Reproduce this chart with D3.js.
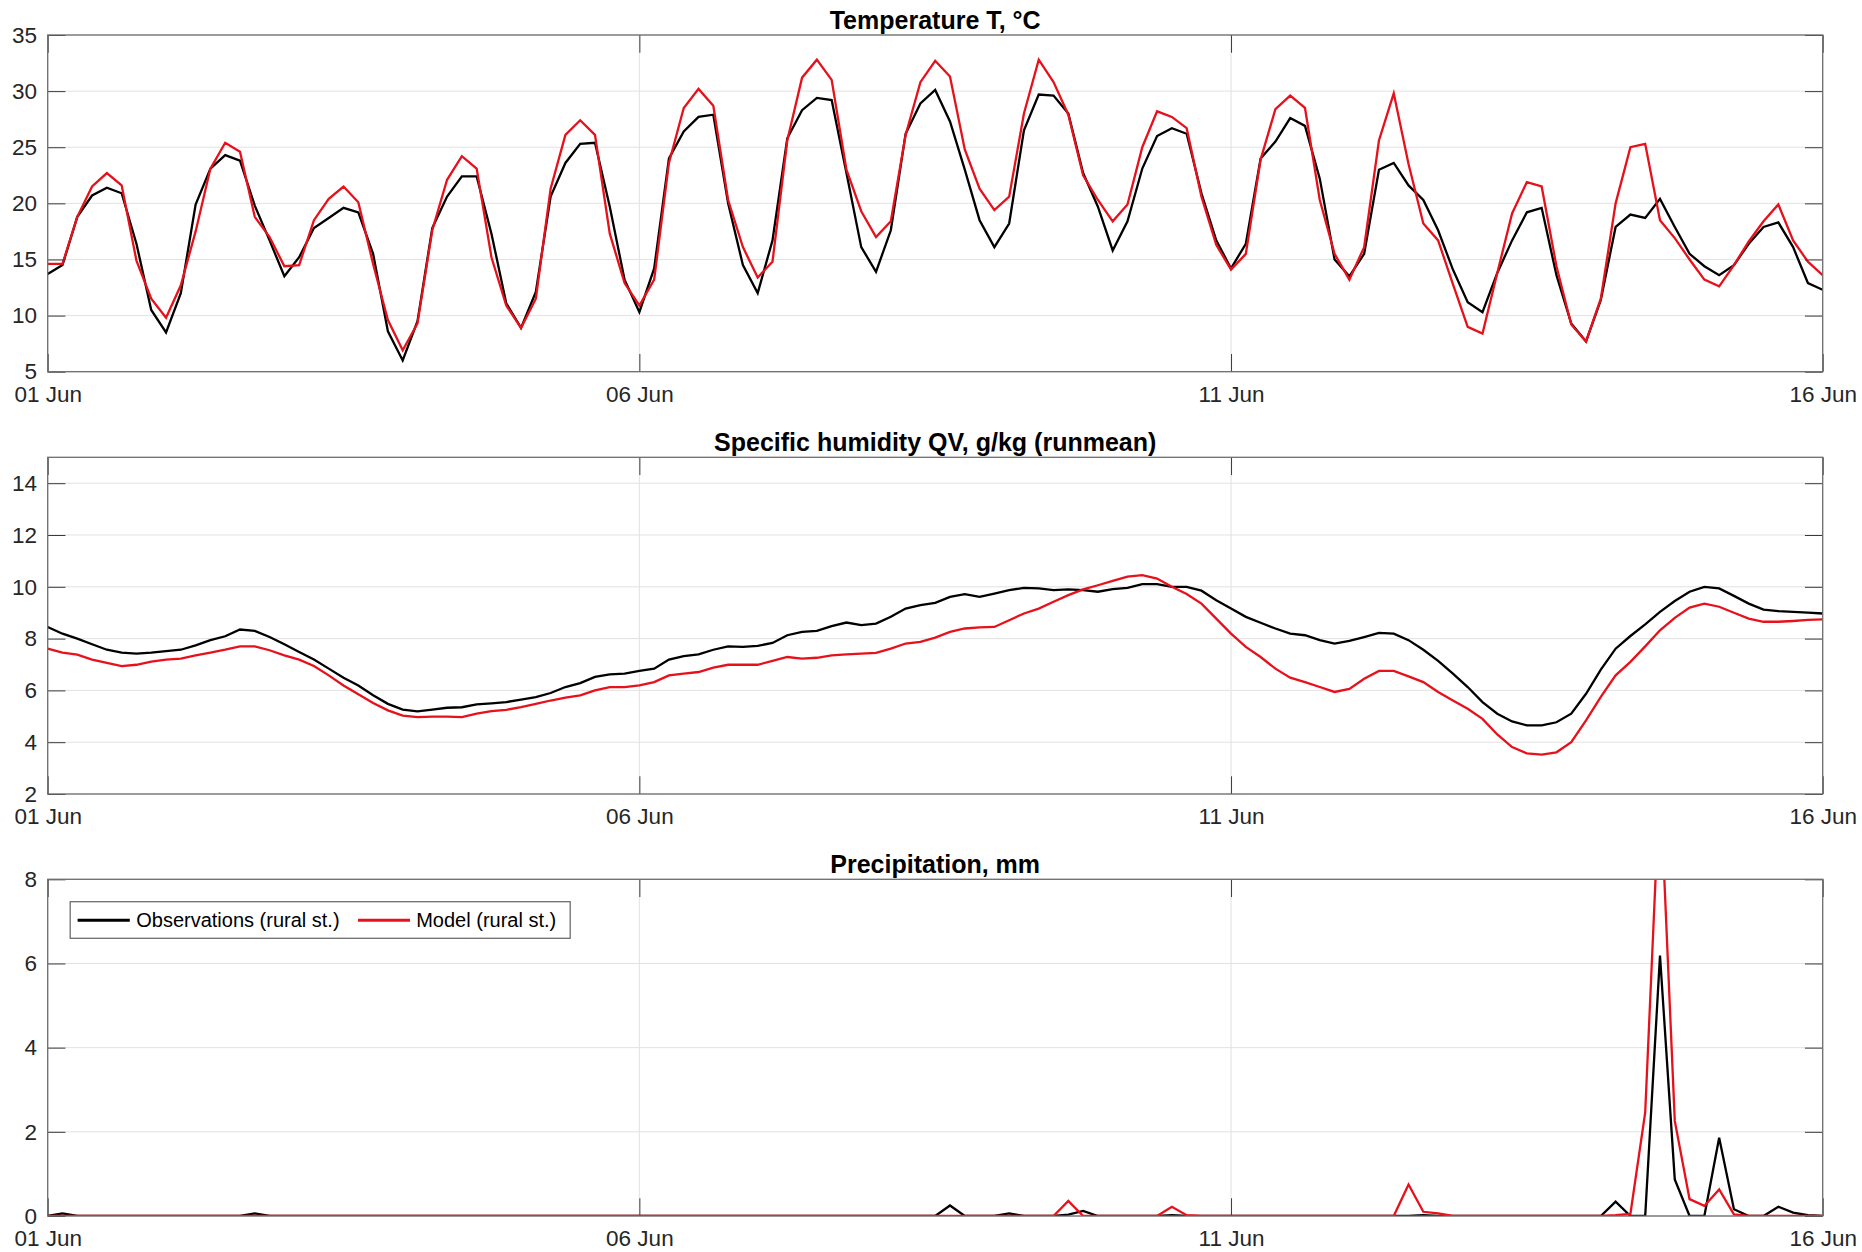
<!DOCTYPE html>
<html>
<head>
<meta charset="utf-8">
<script src="https://cdn.jsdelivr.net/npm/d3@7"></script>
<style>
  body { margin: 0; background: #fff; }
  svg { display: block; font-family: "Liberation Sans", Arial, sans-serif; }
</style>
</head>
<body>
<svg width="1862" height="1252"></svg>
<script>
// 3-hourly values, 01 Jun 00:00 .. 16 Jun 00:00 (121 points)
var obsT = [
  13.7, 14.5, 18.8, 20.7, 21.4, 20.9, 16.4, 10.5,
  8.5, 12.0, 19.9, 23.1, 24.3, 23.8, 19.8, 16.7,
  13.5, 15.2, 17.8, 18.7, 19.6, 19.2, 15.5, 8.6,
  6.0, 9.5, 17.8, 20.6, 22.4, 22.4, 17.3, 11.1,
  8.9, 12.1, 20.6, 23.6, 25.3, 25.4, 19.7, 13.2,
  10.3, 14.2, 24.0, 26.4, 27.7, 27.9, 20.0, 14.5,
  12.0, 16.7, 25.8, 28.3, 29.4, 29.2, 22.7, 16.1,
  13.9, 17.6, 26.2, 28.9, 30.1, 27.3, 23.0, 18.5,
  16.1, 18.2, 26.5, 29.7, 29.6, 28.0, 22.7, 19.7,
  15.8, 18.4, 23.1, 26.0, 26.7, 26.2, 20.9, 16.7,
  14.2, 16.4, 24.0, 25.5, 27.6, 26.9, 22.2, 15.0,
  13.5, 15.5, 23.0, 23.6, 21.6, 20.3, 17.6, 14.1,
  11.2, 10.3, 13.8, 16.7, 19.2, 19.6, 13.6, 9.3,
  7.7, 11.4, 17.9, 19.0, 18.7, 20.4, 17.9, 15.5,
  14.4, 13.6, 14.5, 16.4, 17.9, 18.3, 16.1, 12.9,
  12.3
]
var modT = [
  14.6, 14.6, 18.8, 21.5, 22.7, 21.6, 14.9, 11.5,
  9.8, 12.7, 17.5, 23.1, 25.4, 24.6, 18.8, 17.0,
  14.4, 14.5, 18.5, 20.4, 21.5, 20.1, 14.6, 9.6,
  6.9, 9.3, 17.6, 22.1, 24.2, 23.1, 15.2, 10.9,
  8.9, 11.5, 21.3, 26.1, 27.4, 26.1, 17.3, 12.9,
  10.9, 13.2, 23.6, 28.5, 30.2, 28.7, 20.3, 16.1,
  13.4, 14.8, 25.6, 31.2, 32.8, 31.0, 23.0, 19.3,
  17.0, 18.4, 26.1, 30.8, 32.7, 31.3, 24.8, 21.3,
  19.4, 20.6, 28.0, 32.8, 30.8, 27.9, 22.5, 20.3,
  18.4, 19.9, 25.0, 28.2, 27.7, 26.7, 20.6, 16.3,
  14.1, 15.5, 23.9, 28.4, 29.6, 28.5, 20.3, 15.5,
  13.2, 16.1, 25.6, 29.8, 23.5, 18.2, 16.7, 12.8,
  9.0, 8.4, 13.8, 19.1, 21.9, 21.5, 14.4, 9.2,
  7.7, 11.5, 20.0, 25.0, 25.3, 18.5, 16.9, 15.0,
  13.2, 12.6, 14.5, 16.6, 18.4, 19.9, 16.7, 14.8,
  13.6
]

var obsQV = [
  8.45, 8.19, 8.00, 7.78, 7.57, 7.46, 7.42, 7.46,
  7.52, 7.57, 7.74, 7.94, 8.09, 8.35, 8.30, 8.06,
  7.78, 7.48, 7.19, 6.84, 6.49, 6.19, 5.81, 5.48,
  5.26, 5.19, 5.26, 5.33, 5.35, 5.46, 5.50, 5.55,
  5.64, 5.74, 5.90, 6.13, 6.28, 6.52, 6.62, 6.65,
  6.75, 6.84, 7.19, 7.32, 7.39, 7.57, 7.70, 7.68,
  7.72, 7.83, 8.13, 8.26, 8.30, 8.48, 8.62, 8.52,
  8.58, 8.84, 9.16, 9.29, 9.38, 9.61, 9.72, 9.61,
  9.74, 9.87, 9.96, 9.94, 9.87, 9.90, 9.87, 9.81,
  9.91, 9.96, 10.10, 10.10, 10.00, 10.00, 9.85, 9.48,
  9.16, 8.84, 8.61, 8.39, 8.19, 8.13, 7.94, 7.81,
  7.91, 8.06, 8.22, 8.19, 7.94, 7.57, 7.14, 6.65,
  6.13, 5.55, 5.10, 4.80, 4.65, 4.65, 4.77, 5.10,
  5.87, 6.80, 7.61, 8.10, 8.55, 9.03, 9.45, 9.81,
  10.00, 9.94, 9.65, 9.35, 9.12, 9.06, 9.03, 9.00,
  8.97
]
var modQV = [
  7.61, 7.46, 7.38, 7.19, 7.06, 6.94, 6.99, 7.11,
  7.19, 7.23, 7.35, 7.46, 7.57, 7.70, 7.70, 7.55,
  7.35, 7.19, 6.94, 6.58, 6.19, 5.85, 5.51, 5.23,
  5.03, 4.97, 4.99, 4.99, 4.97, 5.10, 5.20, 5.25,
  5.35, 5.48, 5.61, 5.72, 5.81, 6.00, 6.13, 6.13,
  6.19, 6.32, 6.58, 6.65, 6.71, 6.88, 6.99, 6.99,
  6.99, 7.14, 7.29, 7.23, 7.26, 7.35, 7.39, 7.42,
  7.45, 7.61, 7.81, 7.87, 8.04, 8.26, 8.39, 8.43,
  8.45, 8.71, 8.97, 9.16, 9.42, 9.68, 9.90, 10.06,
  10.23, 10.39, 10.45, 10.32, 10.00, 9.72, 9.35, 8.77,
  8.19, 7.68, 7.29, 6.84, 6.49, 6.32, 6.13, 5.94,
  6.06, 6.45, 6.75, 6.75, 6.54, 6.32, 5.94, 5.61,
  5.29, 4.90, 4.30, 3.81, 3.57, 3.52, 3.61, 4.00,
  4.84, 5.75, 6.58, 7.10, 7.70, 8.32, 8.80, 9.20,
  9.35, 9.23, 9.00, 8.77, 8.65, 8.65, 8.68, 8.72,
  8.74
]

var obsPr = [
  0, 0.06, 0, 0, 0, 0, 0, 0,
  0, 0, 0, 0, 0, 0, 0.06, 0,
  0, 0, 0, 0, 0, 0, 0, 0,
  0, 0, 0, 0, 0, 0, 0, 0,
  0, 0, 0, 0, 0, 0, 0, 0,
  0, 0, 0, 0, 0, 0, 0, 0,
  0, 0, 0, 0, 0, 0, 0, 0,
  0, 0, 0, 0, 0, 0.25, 0, 0,
  0, 0.06, 0, 0, 0, 0.03, 0.12, 0,
  0, 0, 0, 0, 0.02, 0, 0, 0,
  0, 0, 0, 0, 0, 0, 0, 0,
  0, 0, 0, 0, 0, 0.02, 0, 0,
  0, 0, 0, 0, 0, 0, 0, 0,
  0, 0, 0.34, 0, 0, 6.19, 0.87, 0,
  0, 1.86, 0.16, 0, 0, 0.22, 0.08, 0.02,
  0
]
var modPr = [
  0, 0, 0, 0, 0, 0, 0, 0,
  0, 0, 0, 0, 0, 0, 0, 0,
  0, 0, 0, 0, 0, 0, 0, 0,
  0, 0, 0, 0, 0, 0, 0, 0,
  0, 0, 0, 0, 0, 0, 0, 0,
  0, 0, 0, 0, 0, 0, 0, 0,
  0, 0, 0, 0, 0, 0, 0, 0,
  0, 0, 0, 0, 0, 0, 0, 0,
  0, 0, 0, 0, 0, 0.36, 0, 0,
  0, 0, 0, 0, 0.22, 0.02, 0, 0,
  0, 0, 0, 0, 0, 0, 0, 0,
  0, 0, 0, 0, 0.75, 0.10, 0.06, 0,
  0, 0, 0, 0, 0, 0, 0, 0,
  0, 0, 0.02, 0.05, 2.46, 10.4, 2.26, 0.40,
  0.24, 0.63, 0.04, 0, 0, 0, 0, 0,
  0
]

var seriesNames = ['Observations (rural st.)', 'Model (rural st.)']
var titles = ['Temperature T, \u00b0C', 'Specific humidity QV, g/kg (runmean)', 'Precipitation, mm']
var xTickDays = [1, 6, 11, 16]
var yTicksT = [5, 10, 15, 20, 25, 30, 35]
var yTicksQV = [2, 4, 6, 8, 10, 12, 14]
var yTicksPr = [0, 2, 4, 6, 8]

// 画布
var svg = d3.select('svg')
var left = 47.7, right = 1822.7
var plotH = 336.7
var tickLen = 17.75
var colors = ['#000000', '#e8101a']

var t0 = Date.UTC(2019, 5, 1)
var times = obsT.map(function (_, i) { return new Date(t0 + i * 3 * 3600 * 1000) })
var xTicks = xTickDays.map(function (d) { return new Date(Date.UTC(2019, 5, d)) })

var x = d3.scaleUtc()
  .domain([xTicks[0], xTicks[xTicks.length - 1]])
  .range([0, right - left])

var panels = [
  { top: 35, domain: [5, 35], ticks: yTicksT, series: [obsT, modT], title: titles[0] },
  { top: 457.3, domain: [2, 15], ticks: yTicksQV, series: [obsQV, modQV], title: titles[1] },
  { top: 879.3, domain: [0, 8], ticks: yTicksPr, series: [obsPr, modPr], title: titles[2], legend: true }
]

panels.forEach(function (p, k) {
  var w = right - left
  var y = d3.scaleLinear().domain(p.domain).range([plotH, 0])
  var g = svg.append('g').attr('transform', 'translate(' + left + ',' + p.top + ')')

  g.append('clipPath').attr('id', 'clip' + k)
    .append('rect').attr('width', w).attr('height', plotH)

  // grid
  g.selectAll('.hgrid').data(p.ticks).enter().append('line')
    .attr('x1', 0).attr('x2', w)
    .attr('y1', d => y(d)).attr('y2', d => y(d))
    .attr('stroke', '#e2e2e2').attr('stroke-width', 1)
  g.selectAll('.vgrid').data(xTicks).enter().append('line')
    .attr('x1', d => x(d)).attr('x2', d => x(d))
    .attr('y1', 0).attr('y2', plotH)
    .attr('stroke', '#e2e2e2').attr('stroke-width', 1)

  // lines
  var line = d3.line()
    .x(function (d, i) { return x(times[i]) })
    .y(function (d) { return y(d) })
  var lines = g.append('g').attr('clip-path', 'url(#clip' + k + ')')
  p.series.forEach(function (s, j) {
    lines.append('path')
      .attr('d', line(s))
      .attr('fill', 'none')
      .attr('stroke', colors[j])
      .attr('stroke-width', 2.3)
  })

  // axes
  var fmt = d3.utcFormat('%d %b')
  var axB = g.append('g').attr('transform', 'translate(0,' + plotH + ')')
    .call(d3.axisBottom(x).tickValues(xTicks).tickFormat(fmt)
      .tickSizeInner(-tickLen).tickSizeOuter(0).tickPadding(14.5))
  var axT = g.append('g')
    .call(d3.axisTop(x).tickValues(xTicks).tickFormat('')
      .tickSizeInner(-tickLen).tickSizeOuter(0))
  var axL = g.append('g')
    .call(d3.axisLeft(y).tickValues(p.ticks).tickFormat(d3.format('d'))
      .tickSizeInner(-tickLen).tickSizeOuter(0).tickPadding(10.7))
  var axR = g.append('g').attr('transform', 'translate(' + w + ',0)')
    .call(d3.axisRight(y).tickValues(p.ticks).tickFormat('')
      .tickSizeInner(-tickLen).tickSizeOuter(0))

  ;[axB, axT, axL, axR].forEach(function (a) {
    a.select('.domain').remove()
    a.selectAll('line').attr('stroke', '#3a3a3a').attr('stroke-width', 1)
    a.selectAll('text')
      .attr('fill', '#262626')
      .style('font-size', '22.5px')
      .style('font-family', '"Liberation Sans", Arial, sans-serif')
  })

  g.append('rect')
    .attr('width', w).attr('height', plotH)
    .attr('fill', 'none').attr('stroke', '#6e6e6e').attr('stroke-width', 1.3)

  g.append('text')
    .attr('x', w / 2).attr('y', -6)
    .attr('text-anchor', 'middle')
    .attr('font-weight', 'bold')
    .attr('font-size', 25)
    .attr('fill', '#000')
    .text(p.title)

  if (p.legend) {
    var lg = g.append('g').attr('transform', 'translate(22.5,22.4)')
    lg.append('rect').attr('width', 500).attr('height', 36.6)
      .attr('fill', '#fff').attr('stroke', '#6e6e6e').attr('stroke-width', 1.3)
    var items = [
      { x0: 7.4, x1: 59.6, tx: 66, name: seriesNames[0], c: colors[0] },
      { x0: 287.8, x1: 339.8, tx: 346, name: seriesNames[1], c: colors[1] }
    ]
    items.forEach(function (it) {
      lg.append('line').attr('x1', it.x0).attr('x2', it.x1)
        .attr('y1', 18.6).attr('y2', 18.6)
        .attr('stroke', it.c).attr('stroke-width', 3)
      lg.append('text').attr('x', it.tx).attr('y', 18.6).attr('dy', '0.35em')
        .attr('font-size', 20).attr('fill', '#000')
        .text(it.name)
    })
  }
})
</script>
</body>
</html>
